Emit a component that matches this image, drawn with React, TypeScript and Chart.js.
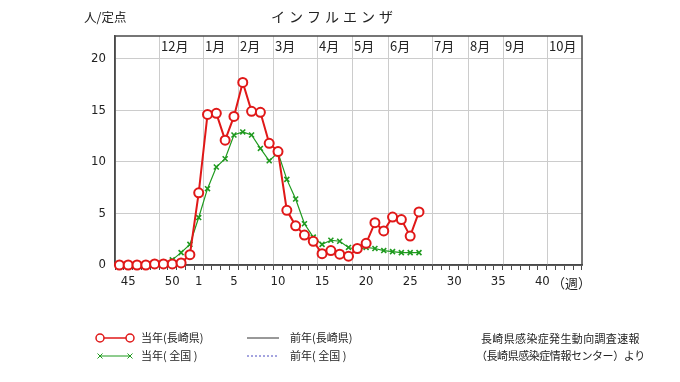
import React, { useEffect, useRef } from 'react';
import { Chart, registerables } from 'chart.js';

Chart.register(...registerables);

// Week categories (week 44 of previous year through week 44)
const weekLabels = [
  '44', '45', '46', '47', '48', '49', '50', '51', '52',
  '1', '2', '3', '4', '5', '6', '7', '8', '9', '10',
  '11', '12', '13', '14', '15', '16', '17', '18', '19', '20',
  '21', '22', '23', '24', '25', '26', '27', '28', '29', '30',
  '31', '32', '33', '34', '35', '36', '37', '38', '39', '40',
  '41', '42', '43', '44',
];
const shownWeekLabels = ['45', '50', '1', '5', '10', '15', '20', '25', '30', '35', '40'];

// 当年(長崎県)
const currentNagasaki = [
  0, 0, 0, 0, 0.1, 0.1, 0.1, 0.2, 1.0,
  7.0, 14.6, 14.7, 12.1, 14.4, 17.7, 14.9, 14.8, 11.8, 11.0,
  5.3, 3.8, 2.9, 2.3, 1.1, 1.4, 1.05, 0.85, 1.6, 2.1,
  4.1, 3.3, 4.65, 4.4, 2.8, 5.15,
];
// 当年(全国)
const currentNational = [
  0, 0, 0, 0.05, 0.1, 0.2, 0.5, 1.2, 2.0,
  4.6, 7.4, 9.5, 10.3, 12.6, 12.9, 12.6, 11.3, 10.1, 10.9,
  8.3, 6.4, 4.0, 2.7, 2.0, 2.4, 2.3, 1.7, 1.5, 1.7,
  1.6, 1.4, 1.3, 1.2, 1.2, 1.2,
];
// 前年 series (not drawn in the reference)
const prevNagasaki: (number | null)[] = [];
const prevNational: (number | null)[] = [];

// Month boundaries (in week-category units) and their labels
const monthBoundaries = [4.53, 9.52, 13.43, 17.4, 22.39, 26.44, 30.43, 35.45, 39.53, 43.58, 48.5];
const monthLabels = ['12月', '1月', '2月', '3月', '4月', '5月', '6月', '7月', '8月', '9月', '10月'];

const yTicks = { min: 0, max: 22.2, step: 5 };

const titleText = 'インフルエンザ';
const unitText = '人/定点';
const weekUnitText = '（週）';
const sourceLines = ['長崎県感染症発生動向調査速報', '（長崎県感染症情報センター）より'];

const RED = '#e01818';
const GREEN = '#1f9a1f';
const BLACK = '#333333';
const BLUE = '#4a4ac0';
const GRID = '#cccccc';
const FRAME = '#4a4a4a';
const TEXT = '#222222';
const CJK = '"Noto Sans CJK JP", "Noto Sans", sans-serif';
const NUM = '"Liberation Sans Narrow", "DejaVu Sans Condensed", "Liberation Sans", Arial, sans-serif';

const decorPlugin = {
  id: 'decor',
  beforeDatasetsDraw(chart: any) {
    const { ctx, chartArea: a, scales } = chart;
    const xs = scales.x;
    ctx.save();
    ctx.lineWidth = 1;
    ctx.strokeStyle = GRID;
    ctx.font = `13px ${CJK}`;
    ctx.fillStyle = TEXT;
    ctx.textBaseline = 'middle';
    ctx.textAlign = 'left';
    monthBoundaries.forEach((v, i) => {
      const px = Math.round(xs.getPixelForValue(v)) + 0.5;
      ctx.beginPath();
      ctx.moveTo(px, a.top);
      ctx.lineTo(px, a.bottom);
      ctx.stroke();
      ctx.fillText(monthLabels[i], px + 1.5, a.top + 10);
    });
    ctx.strokeStyle = FRAME;
    ctx.lineWidth = 1.5;
    ctx.strokeRect(a.left, a.top, a.right - a.left, a.bottom - a.top);
    ctx.restore();
  },
  afterDraw(chart: any) {
    const { ctx } = chart;
    const ds = chart.data.datasets;
    ctx.save();
    // title
    ctx.fillStyle = TEXT;
    ctx.textBaseline = 'middle';
    ctx.textAlign = 'left';
    ctx.font = `14px ${CJK}`;
    (ctx as any).letterSpacing = '4px';
    ctx.fillText(titleText, 271, 17);
    (ctx as any).letterSpacing = '0px';
    ctx.font = `12.5px ${CJK}`;
    ctx.fillText(unitText, 84, 17);
    // week unit
    ctx.font = `13px ${CJK}`;
    ctx.fillText(weekUnitText, 552, 283);

    // legend
    const rows = [338, 356];
    const col = [[100, 130, 141], [247, 279, 290]];
    // 当年(長崎県)
    ctx.strokeStyle = ds[0].borderColor;
    ctx.lineWidth = 1.5;
    ctx.beginPath();
    ctx.moveTo(col[0][0], rows[0]);
    ctx.lineTo(col[0][1], rows[0]);
    ctx.stroke();
    [col[0][0], col[0][1]].forEach((cx) => {
      ctx.beginPath();
      ctx.arc(cx, rows[0], 4, 0, Math.PI * 2);
      ctx.fillStyle = '#fff';
      ctx.fill();
      ctx.stroke();
    });
    // 当年(全国)
    ctx.strokeStyle = ds[1].borderColor;
    ctx.lineWidth = 1;
    ctx.beginPath();
    ctx.moveTo(col[0][0], rows[1]);
    ctx.lineTo(col[0][1], rows[1]);
    ctx.stroke();
    [col[0][0], col[0][1]].forEach((cx) => {
      const s = 2.5;
      ctx.beginPath();
      ctx.moveTo(cx - s, rows[1] - s);
      ctx.lineTo(cx + s, rows[1] + s);
      ctx.moveTo(cx - s, rows[1] + s);
      ctx.lineTo(cx + s, rows[1] - s);
      ctx.stroke();
    });
    // 前年(長崎県)
    ctx.strokeStyle = ds[2].borderColor;
    ctx.lineWidth = 1;
    ctx.beginPath();
    ctx.moveTo(col[1][0], rows[0]);
    ctx.lineTo(col[1][1], rows[0]);
    ctx.stroke();
    // 前年(全国)
    ctx.strokeStyle = ds[3].borderColor;
    ctx.setLineDash([2, 2]);
    ctx.beginPath();
    ctx.moveTo(col[1][0], rows[1]);
    ctx.lineTo(col[1][1], rows[1]);
    ctx.stroke();
    ctx.setLineDash([]);

    ctx.fillStyle = TEXT;
    ctx.font = `11px ${CJK}`;
    ctx.fillText(ds[0].label, col[0][2], rows[0]);
    ctx.fillText(ds[1].label, col[0][2], rows[1]);
    ctx.fillText(ds[2].label, col[1][2], rows[0]);
    ctx.fillText(ds[3].label, col[1][2], rows[1]);

    // source
    ctx.font = `11px ${CJK}`;
    (ctx as any).letterSpacing = '0.35px';
    ctx.fillText(sourceLines[0], 481, 339);
    (ctx as any).letterSpacing = '-0.45px';
    ctx.fillText(sourceLines[1], 476, 356);
    (ctx as any).letterSpacing = '0px';
    ctx.restore();
  },
};

export default function App() {
  const ref = useRef<HTMLCanvasElement | null>(null);
  useEffect(() => {
    if (!ref.current) return;
    const chart = new Chart(ref.current, {
      type: 'line',
      data: {
        labels: weekLabels,
        datasets: [
          {
            label: '当年(長崎県)',
            data: currentNagasaki,
            borderColor: RED,
            backgroundColor: '#ffffff',
            borderWidth: 2,
            pointRadius: 4.5,
            pointBorderWidth: 2,
            pointBackgroundColor: '#ffffff',
            pointBorderColor: RED,
            pointStyle: 'circle',
            tension: 0,
            clip: false,
          },
          {
            label: '当年( 全国 )',
            data: currentNational,
            borderColor: GREEN,
            backgroundColor: GREEN,
            borderWidth: 1.2,
            pointRadius: 3.5,
            pointBorderWidth: 1.6,
            pointBorderColor: GREEN,
            pointStyle: 'crossRot',
            tension: 0,
            clip: false,
          },
          {
            label: '前年(長崎県)',
            data: prevNagasaki,
            borderColor: BLACK,
            borderWidth: 1,
            pointRadius: 0,
          },
          {
            label: '前年( 全国 )',
            data: prevNational,
            borderColor: BLUE,
            borderWidth: 1,
            borderDash: [2, 2],
            pointRadius: 0,
          },
        ],
      },
      options: {
        responsive: false,
        animation: false,
        devicePixelRatio: 1,
        layout: { padding: { left: 0, right: 98, top: 36, bottom: 87 } },
        plugins: {
          legend: { display: false },
          title: { display: false },
          tooltip: { enabled: false },
        },
        scales: {
          x: {
            type: 'category',
            offset: true,
            afterFit: (s: any) => { s.height = 30; },
            grid: {
              display: true,
              offset: true,
              drawOnChartArea: false,
              drawTicks: true,
              tickLength: 5,
              color: FRAME,
              lineWidth: 1,
            },
            border: { display: true, color: FRAME, width: 1.5 },
            ticks: {
              autoSkip: false,
              maxRotation: 0,
              minRotation: 0,
              padding: 4,
              color: TEXT,
              font: { family: NUM, size: 13 },
              callback: function (this: any, value: any, index: number) {
                const l = weekLabels[index];
                if (index === 0 || index === weekLabels.length - 1) return '';
                return shownWeekLabels.includes(l) ? l : '';
              },
            },
          },
          y: {
            type: 'linear',
            min: yTicks.min,
            max: yTicks.max,
            afterFit: (s: any) => { s.width = 115; },
            grid: { color: GRID, drawTicks: false, lineWidth: 1 },
            border: { display: true, color: FRAME, width: 1.5 },
            ticks: {
              stepSize: yTicks.step,
              includeBounds: false,
              padding: 9,
              color: TEXT,
              font: { family: NUM, size: 13 },
            },
          },
        },
      },
      plugins: [decorPlugin],
    });
    return () => chart.destroy();
  }, []);
  return (
    <div style={{ position: 'fixed', left: 0, top: 0, width: 680, height: 382, background: '#fff' }}>
      <canvas ref={ref} width={680} height={382} style={{ display: 'block' }} />
    </div>
  );
}
